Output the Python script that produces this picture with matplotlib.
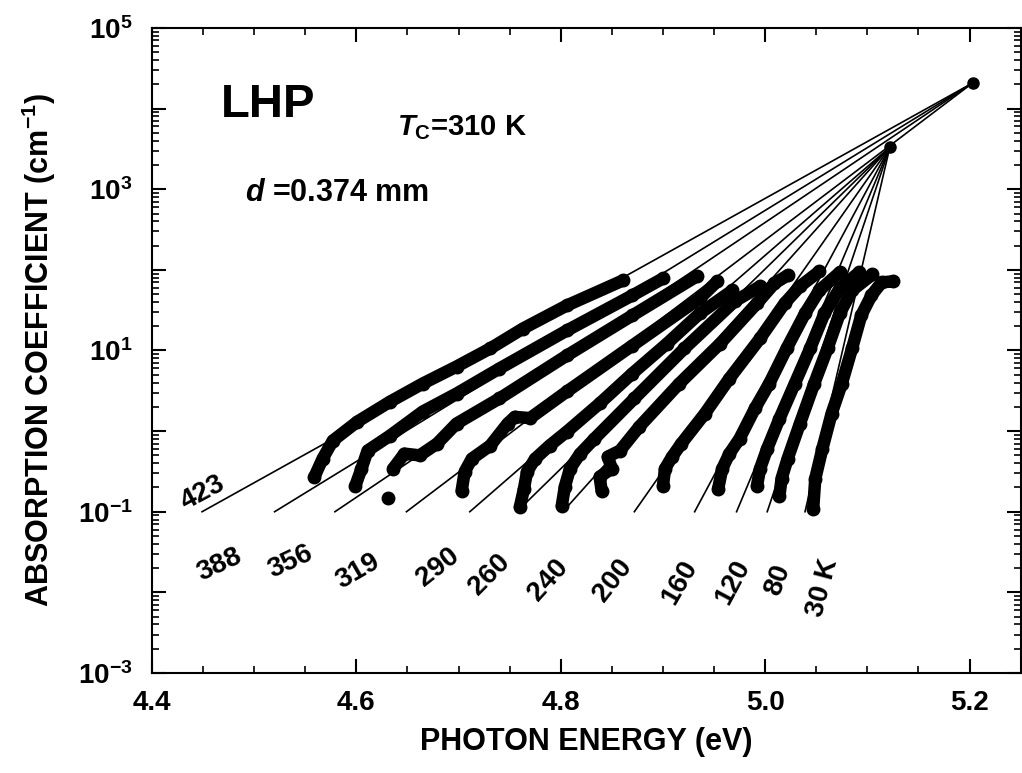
import matplotlib
matplotlib.use('Agg')
import matplotlib.pyplot as plt
from matplotlib.ticker import MultipleLocator, LogLocator, FuncFormatter, NullFormatter
import numpy as np

plt.rcParams['font.family'] = ['Liberation Sans', 'DejaVu Sans']
plt.rcParams['font.weight'] = 'bold'
plt.rcParams['mathtext.fontset'] = 'custom'
plt.rcParams['mathtext.rm'] = 'Liberation Sans:bold'
plt.rcParams['mathtext.bf'] = 'Liberation Sans:bold'
plt.rcParams['mathtext.it'] = 'Liberation Sans:italic:bold'

# measured absorption edges: photon energy (eV) and alpha (cm^-1)
e_423 = [4.559, 4.567, 4.577, 4.601, 4.633, 4.665, 4.698, 4.731, 4.763, 4.806, 4.861]
a_423 = [0.272, 0.455, 0.762, 1.31, 2.32, 3.89, 6.32, 10.6, 18.7, 36.2, 74.1]
e_388 = [4.599, 4.605, 4.611, 4.633, 4.665, 4.698, 4.740, 4.806, 4.870, 4.900]
a_388 = [0.210, 0.342, 0.573, 0.879, 1.75, 2.92, 5.97, 17.7, 48.2, 78.3]
e_356 = [4.636, 4.647, 4.662, 4.679, 4.698, 4.740, 4.806, 4.870, 4.933]
a_356 = [0.342, 0.525, 0.50, 0.700, 1.24, 2.54, 8.67, 27.2, 83.0]
e_319 = [4.703, 4.706, 4.713, 4.731, 4.748, 4.755, 4.770, 4.806, 4.870, 4.936, 4.953]
a_319 = [0.182, 0.314, 0.455, 0.661, 1.24, 1.50, 1.45, 3.10, 11.5, 44.3, 71.9]
e_290 = [4.760, 4.764, 4.767, 4.775, 4.789, 4.806, 4.838, 4.870, 4.904, 4.936, 4.968]
a_290 = [0.115, 0.193, 0.314, 0.455, 0.661, 0.986, 2.20, 5.18, 12.2, 28.8, 55.6]
e_260 = [4.801, 4.804, 4.809, 4.819, 4.833, 4.872, 4.921, 4.970, 4.995]
a_260 = [0.119, 0.205, 0.342, 0.525, 0.807, 2.54, 10.6, 40.6, 62.4]
e_240 = [4.840, 4.838, 4.850, 4.846, 4.858, 4.877, 4.916, 4.956, 4.992, 5.009, 5.022]
a_240 = [0.182, 0.272, 0.342, 0.482, 0.573, 1.14, 3.89, 12.2, 38.4, 67.9, 85.5]
e_200 = [4.900, 4.902, 4.909, 4.918, 4.941, 4.965, 4.995, 5.019, 5.034, 5.053]
a_200 = [0.210, 0.342, 0.482, 0.700, 1.65, 4.49, 14.1, 38.4, 62.4, 95.7]
e_160 = [4.954, 4.958, 4.965, 4.975, 4.990, 5.004, 5.021, 5.039, 5.053, 5.073]
a_160 = [0.193, 0.342, 0.525, 0.807, 1.91, 3.89, 10.6, 28.8, 55.6, 93.1]
e_120 = [4.992, 4.995, 5.002, 5.014, 5.029, 5.044, 5.058, 5.073, 5.092]
a_120 = [0.210, 0.342, 0.607, 1.43, 3.89, 10.6, 28.8, 58.9, 93.1]
e_80 = [5.014, 5.016, 5.022, 5.034, 5.048, 5.061, 5.073, 5.085, 5.105]
a_80 = [0.158, 0.257, 0.455, 1.24, 3.89, 10.6, 28.8, 55.6, 87.9]
e_30 = [5.047, 5.049, 5.056, 5.065, 5.075, 5.085, 5.094, 5.104, 5.114, 5.125]
a_30 = [0.109, 0.257, 0.607, 1.65, 3.89, 10.6, 27.2, 48.2, 70.0, 71.9]

# stray point below the 356 K edge
e_stray = [4.631]
a_stray = [0.149]

curves = [(e_423, a_423), (e_388, a_388), (e_356, a_356), (e_319, a_319),
          (e_290, a_290), (e_260, a_260), (e_240, a_240), (e_200, a_200),
          (e_160, a_160), (e_120, a_120), (e_80, a_80), (e_30, a_30)]

# Urbach fit lines
temps = [423, 388, 356, 319, 290, 260, 240, 200, 160, 120, 80, 30]
fit_e0 = [4.449, 4.520, 4.579, 4.649, 4.711, 4.757, 4.802, 4.872, 4.931, 4.972, 5.002, 5.039]
fit_a0 = 0.1
tc = 310
focus_hi = (5.203, 2.08e4)
focus_lo = (5.122, 3.33e3)

temp_labels = ['423', '388', '356', '319', '290', '260', '240', '200', '160', '120', '80', '30 K']
label_pos = [(0.059, 0.279), (0.078, 0.167), (0.159, 0.172), (0.237, 0.157),
             (0.329, 0.164), (0.389, 0.152), (0.456, 0.144), (0.530, 0.144),
             (0.608, 0.141), (0.669, 0.141), (0.720, 0.144), (0.772, 0.132)]
label_rot = [28, 25, 25, 30, 38, 45, 48, 52, 60, 62, 70, 75]

fig = plt.figure(figsize=(10.22, 7.73), dpi=100)
ax = fig.add_axes([0.1487, 0.1294, 0.850, 0.8344])

for t, e0 in zip(temps, fit_e0):
    fe, fa = focus_hi if t > tc else focus_lo
    ax.plot([e0, fe], [fit_a0, fa], color='k', lw=1.2)

for e, a in curves:
    ax.plot(e, a, color='k', lw=9, solid_capstyle='round', solid_joinstyle='round')
    ax.plot(e, a, 'o', color='k', ms=9)
ax.plot(e_stray, a_stray, 'o', color='k', ms=9)
ax.plot([focus_hi[0], focus_lo[0]], [focus_hi[1], focus_lo[1]], 'o', color='k', ms=8, lw=0)

for txt, (x, y), r in zip(temp_labels, label_pos, label_rot):
    ax.text(x, y, txt, transform=ax.transAxes, rotation=r, fontsize=20,
            ha='center', va='center', rotation_mode='anchor')

ax.text(0.134, 0.881, 'LHP', transform=ax.transAxes, fontsize=34, ha='center', va='center')
ax.text(0.282, 0.845, r'$\mathit{T}_{\rm C}$=310 K', transform=ax.transAxes, fontsize=21,
        ha='left', va='center')
ax.text(0.107, 0.744, r'$\mathit{d}$ =0.374 mm', transform=ax.transAxes, fontsize=22,
        ha='left', va='center')

ax.set_xlim(4.4, 5.25)
ax.set_yscale('log')
ax.set_ylim(1e-3, 1e5)
ax.xaxis.set_major_locator(MultipleLocator(0.2))
ax.xaxis.set_minor_locator(MultipleLocator(0.05))
ax.xaxis.set_major_formatter(FuncFormatter(lambda v, p: '%.1f' % v))
ax.yaxis.set_major_locator(LogLocator(base=10, numticks=20))
ax.yaxis.set_minor_locator(LogLocator(base=10, subs=np.arange(2, 10), numticks=20))
ax.yaxis.set_minor_formatter(NullFormatter())


def ylab(v, pos):
    ex = int(round(np.log10(v)))
    if ex % 2 == 1:
        return r'$\mathbf{10^{%d}}$' % ex
    return ''


ax.yaxis.set_major_formatter(FuncFormatter(ylab))
ax.tick_params(which='both', direction='in', top=True, right=True, labelsize=20)
ax.tick_params(which='major', length=10, width=1.5)
ax.tick_params(which='minor', length=5, width=1.2)
ax.tick_params(axis='x', pad=12)
ax.tick_params(axis='y', pad=14)
for s in ax.spines.values():
    s.set_linewidth(1.5)

ax.set_xlabel('PHOTON ENERGY (eV)', fontsize=22, fontweight='bold', labelpad=8)
ax.set_ylabel(r'ABSORPTION COEFFICIENT (cm$^{\mathbf{-1}}$)', fontsize=22,
              fontweight='bold', labelpad=14)

fig.savefig('out.png', dpi=100)
